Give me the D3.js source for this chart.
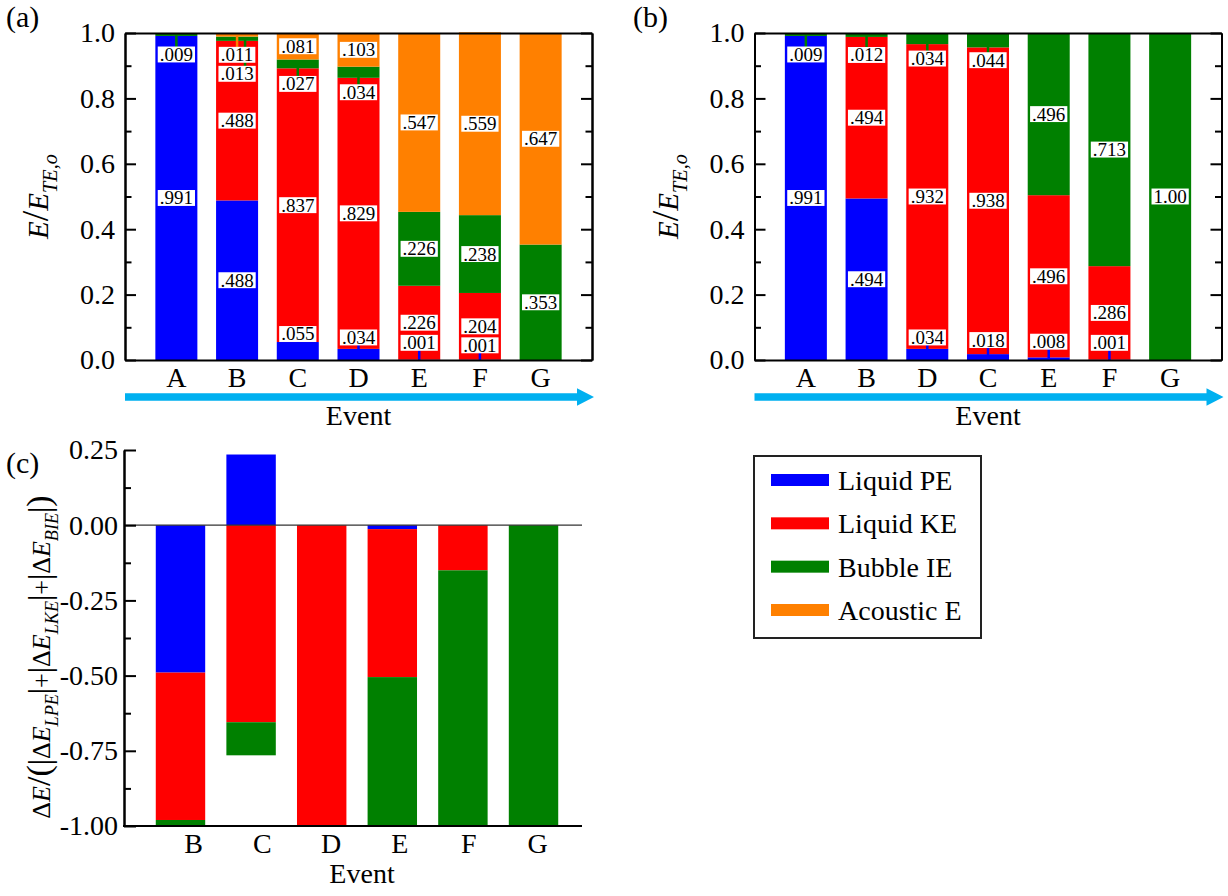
<!DOCTYPE html>
<html>
<head>
<meta charset="utf-8">
<script src="https://cdn.jsdelivr.net/npm/d3@7"></script>
<style>
  body { margin: 0; background: #fff; }
  svg { display: block; }
  text { font-family: 'Liberation Serif', 'Times New Roman', Times, serif; fill: #000; }
</style>
</head>
<body>
<svg id="chart" width="1228" height="896"></svg>
<script>
// ---- energy components (stack order: bottom to top) ----
const keys = ["lpe", "lke", "bie", "ae"];
const seriesNames = ["Liquid PE", "Liquid KE", "Bubble IE", "Acoustic E"];
const seriesColors = ["#0000ff", "#ff0000", "#008000", "#ff8000"];

// (a) energy fractions, acoustic loss included
const eventsA = ["A", "B", "C", "D", "E", "F", "G"];
const lpeA = [0.991, 0.488, 0.055, 0.034, 0.001, 0.001, 0];
const lkeA = [0, 0.488, 0.837, 0.829, 0.226, 0.204, 0];
const bieA = [0.009, 0.013, 0.027, 0.034, 0.226, 0.238, 0.353];
const aeA  = [0, 0.011, 0.081, 0.103, 0.547, 0.559, 0.647];

// (b) energy fractions without acoustic loss
const eventsB = ["A", "B", "D", "C", "E", "F", "G"];
const lpeB = [0.991, 0.494, 0.034, 0.018, 0.008, 0.001, 0];
const lkeB = [0, 0.494, 0.932, 0.938, 0.496, 0.286, 0];
const bieB = [0.009, 0.012, 0.034, 0.044, 0.496, 0.713, 1.00];
const aeB  = [0, 0, 0, 0, 0, 0, 0];

// (c) normalised energy change per event
const eventsC = ["B", "C", "D", "E", "F", "G"];
const dLpeC = [-0.49, 0.235, 0, -0.013, 0, 0];
const dLkeC = [-0.49, -0.655, -1.0, -0.492, -0.15, 0];
const dBieC = [-0.02, -0.11, 0, -0.495, -0.85, -1.0];

// axis ticks
const fracMajor = [0, 0.2, 0.4, 0.6, 0.8, 1.0];
const fracMinor = [0.1, 0.3, 0.5, 0.7, 0.9];
const deltaMajor = [0.25, 0, -0.25, -0.5, -0.75, -1.0];
const deltaMinor = [0.125, -0.125, -0.375, -0.625, -0.875];

const colorOf = d3.scaleOrdinal().domain(keys).range(seriesColors);
const svg = d3.select("#chart");
const ARROW = "#00b0f0";
const TICK_FS = 28;

function fmtFrac(v) { return v >= 1 ? v.toFixed(2) : v.toFixed(3).slice(1); }

// rotated axis title built from styled pieces
function richTitle(x, y, parts, base) {
  const t = svg.append("text")
    .attr("transform", `translate(${x},${y}) rotate(-90)`)
    .attr("text-anchor", "middle")
    .attr("font-size", base);
  let shift = 0;
  parts.forEach(p => {
    const target = p.sub ? base * 0.32 : 0;
    t.append("tspan")
      .attr("dy", target - shift)
      .attr("font-size", base * (p.s || 1))
      .attr("font-style", p.i ? "italic" : "normal")
      .text(p.t);
    shift = target;
  });
}

function styleAxis(g) {
  g.selectAll("path, line").attr("stroke", "#000").attr("stroke-width", 2);
  g.selectAll("text").attr("font-size", TICK_FS).attr("fill", "#000")
    .attr("font-family", "'Liberation Serif','Times New Roman',Times,serif");
}

function drawStackPanel(cfg) {
  const { events, cols, left, right, top, bottom, tag, tagX } = cfg;
  const rows = events.map((e, i) => {
    const r = { event: e };
    keys.forEach((k, j) => r[k] = cols[j][i]);
    return r;
  });
  const x = d3.scaleBand().domain(events).range([left, right]).paddingInner(0.308).paddingOuter(0.5);
  const y = d3.scaleLinear().domain([0, 1]).range([bottom, top]);
  const stacked = d3.stack().keys(keys)(rows);

  const g = svg.append("g");
  g.selectAll("g.layer").data(stacked).join("g")
    .attr("class", "layer")
    .attr("fill", d => colorOf(d.key))
    .selectAll("rect").data(d => d).join("rect")
    .attr("x", d => x(d.data.event))
    .attr("width", x.bandwidth())
    .attr("y", d => y(d[1]))
    .attr("height", d => Math.max(0, y(d[0]) - y(d[1])));

  // value labels with leader lines for thin segments
  const fs = 19, gap = 19;
  const leaders = g.append("g"), boxes = g.append("g");
  events.forEach((e, i) => {
    const labs = stacked.map(s => ({ key: s.key, y0: s[i][0], y1: s[i][1], v: rows[i][s.key] }))
      .filter(s => s.v > 0)
      .map(s => {
        const mid = (s.y0 + s.y1) / 2;
        const c = y(mid);
        const small = s.v < 0.06;
        const ly = small ? (mid > 0.5 ? c + 20 : c - 17) : c;
        return { ...s, c, ly, small };
      })
      .sort((a, b) => a.ly - b.ly);
    for (let k = 1; k < labs.length; k++) {
      if (labs[k].ly < labs[k - 1].ly + gap) labs[k].ly = labs[k - 1].ly + gap;
    }
    let limit = y(0) - 8.5;
    for (let k = labs.length - 1; k >= 0; k--) {
      if (labs[k].ly > limit) labs[k].ly = limit;
      limit = labs[k].ly - gap;
    }
    const cx = x(e) + x.bandwidth() / 2;
    labs.forEach(L => {
      if (!L.small) return;
      const lo = Math.min(L.c, L.ly), hi = Math.max(L.c, L.ly);
      const crosses = labs.some(M => M !== L && M.ly + 8 > lo && M.ly - 8 < hi);
      const lx = cx + (crosses ? 8 : 0);
      leaders.append("line")
        .attr("x1", lx).attr("x2", lx)
        .attr("y1", L.c).attr("y2", L.ly)
        .attr("stroke", colorOf(L.key)).attr("stroke-width", 2.5);
    });
    labs.forEach(L => {
      const lg = boxes.append("g");
      const base = L.ly + 0.34 * fs;
      const rect = lg.append("rect").attr("fill", "#fff");
      const txt = lg.append("text")
        .attr("x", cx).attr("y", base)
        .attr("text-anchor", "middle")
        .attr("font-size", fs)
        .text(fmtFrac(L.v));
      const w = txt.node().getComputedTextLength();
      rect.attr("x", cx - w / 2 - 2).attr("width", w + 4)
        .attr("y", base - 0.68 * fs - 1.5).attr("height", 0.68 * fs + 3);
    });
  });

  // frame and ticks
  const axL = svg.append("g").attr("transform", `translate(${left},0)`)
    .call(d3.axisLeft(y).tickValues(fracMajor).tickSize(-11).tickSizeOuter(0).tickPadding(10).tickFormat(d3.format(".1f")));
  styleAxis(axL);
  const axLm = svg.append("g").attr("transform", `translate(${left},0)`)
    .call(d3.axisLeft(y).tickValues(fracMinor).tickSize(-6.5).tickSizeOuter(0).tickFormat(""));
  styleAxis(axLm);
  const axR = svg.append("g").attr("transform", `translate(${right},0)`)
    .call(d3.axisRight(y).tickValues(fracMajor).tickSize(-11).tickSizeOuter(0).tickFormat(""));
  styleAxis(axR);
  const axRm = svg.append("g").attr("transform", `translate(${right},0)`)
    .call(d3.axisRight(y).tickValues(fracMinor).tickSize(-6.5).tickSizeOuter(0).tickFormat(""));
  styleAxis(axRm);
  const axT = svg.append("g").attr("transform", `translate(0,${top})`)
    .call(d3.axisTop(x).tickSize(0).tickSizeOuter(0).tickFormat(""));
  styleAxis(axT);
  const axB = svg.append("g").attr("transform", `translate(0,${bottom})`)
    .call(d3.axisBottom(x).tickSize(0).tickSizeOuter(0).tickPadding(7));
  styleAxis(axB);

  // event arrow
  const ay = 397, x0 = left, x1 = right + 2;
  svg.append("path")
    .attr("d", `M${x0},${ay - 3.7}H${x1 - 17}V${ay - 8.7}L${x1},${ay}L${x1 - 17},${ay + 8.7}V${ay + 3.7}H${x0}Z`)
    .attr("fill", ARROW);
  svg.append("text").attr("x", (left + right) / 2).attr("y", 425)
    .attr("text-anchor", "middle").attr("font-size", TICK_FS).text("Event");

  // axis title and panel tag
  richTitle(left - 77, (top + bottom) / 2, [
    { t: "E", i: true }, { t: "/", s: 1.3 }, { t: "E", i: true }, { t: "TE,o", i: true, sub: true, s: 0.7 }
  ], 29);
  svg.append("text").attr("x", tagX).attr("y", 27).attr("font-size", 30).text(tag);
}

drawStackPanel({ events: eventsA, cols: [lpeA, lkeA, bieA, aeA], left: 125, right: 592, top: 33, bottom: 360, tag: "(a)", tagX: 6 });
drawStackPanel({ events: eventsB, cols: [lpeB, lkeB, bieB, aeB], left: 754.5, right: 1221.5, top: 33, bottom: 360, tag: "(b)", tagX: 633 });

// ---- panel (c): diverging stacked change ----
(function () {
  const left = 124, right = 590, axisEnd = 582, top = 450, bottom = 826;
  const ckeys = ["lpe", "lke", "bie"];
  const rows = eventsC.map((e, i) => ({ event: e, lpe: dLpeC[i], lke: dLkeC[i], bie: dBieC[i] }));
  const x = d3.scaleBand().domain(eventsC).range([left, right]).paddingInner(0.3).paddingOuter(0.45);
  const xLab = d3.scalePoint().domain(eventsC).range([left + 69, left + 413]);
  const y = d3.scaleLinear().domain([-1, 0.25]).range([bottom, top]);
  const stacked = d3.stack().keys(ckeys).offset(d3.stackOffsetDiverging)(rows);

  svg.append("g").selectAll("g").data(stacked).join("g")
    .attr("fill", d => colorOf(d.key))
    .selectAll("rect").data(d => d).join("rect")
    .attr("x", d => x(d.data.event))
    .attr("width", x.bandwidth())
    .attr("y", d => y(Math.max(d[0], d[1])))
    .attr("height", d => Math.abs(y(d[0]) - y(d[1])));

  // zero reference line
  svg.append("line").attr("x1", left).attr("x2", axisEnd)
    .attr("y1", y(0)).attr("y2", y(0))
    .attr("stroke", "#333").attr("stroke-width", 1.2);

  const axL = svg.append("g").attr("transform", `translate(${left},0)`)
    .call(d3.axisLeft(y).tickValues(deltaMajor).tickSize(-12).tickSizeOuter(0).tickPadding(6).tickFormat(v => v.toFixed(2)));
  styleAxis(axL);
  const axLm = svg.append("g").attr("transform", `translate(${left},0)`)
    .call(d3.axisLeft(y).tickValues(deltaMinor).tickSize(-7).tickSizeOuter(0).tickFormat(""));
  styleAxis(axLm);

  svg.append("line").attr("x1", left - 1).attr("x2", axisEnd)
    .attr("y1", bottom).attr("y2", bottom)
    .attr("stroke", "#000").attr("stroke-width", 2);
  const axB = svg.append("g").attr("transform", `translate(0,${bottom})`)
    .call(d3.axisBottom(xLab).tickSize(0).tickPadding(7));
  styleAxis(axB);
  axB.select(".domain").remove();

  svg.append("text").attr("x", 362).attr("y", 883)
    .attr("text-anchor", "middle").attr("font-size", TICK_FS).text("Event");
  svg.append("text").attr("x", 6).attr("y", 473).attr("font-size", 30).text("(c)");

  richTitle(50, 657, [
    { t: "Δ" }, { t: "E", i: true }, { t: "/", s: 1.3 }, { t: "(", s: 1.3 },
    { t: "|", s: 1.2 }, { t: "Δ" }, { t: "E", i: true }, { t: "LPE", i: true, sub: true, s: 0.7 }, { t: "|", s: 1.2 },
    { t: "+" },
    { t: "|", s: 1.2 }, { t: "Δ" }, { t: "E", i: true }, { t: "LKE", i: true, sub: true, s: 0.7 }, { t: "|", s: 1.2 },
    { t: "+" },
    { t: "|", s: 1.2 }, { t: "Δ" }, { t: "E", i: true }, { t: "BIE", i: true, sub: true, s: 0.7 }, { t: "|", s: 1.2 },
    { t: ")", s: 1.3 }
  ], 26);
})();

// ---- legend ----
(function () {
  const lx = 754, ly = 456, lw = 227, lh = 182;
  svg.append("rect").attr("x", lx).attr("y", ly).attr("width", lw).attr("height", lh)
    .attr("fill", "#fff").attr("stroke", "#222").attr("stroke-width", 2);
  const row = d3.scalePoint().domain(seriesNames).range([ly + 24, ly + 154]);
  const items = svg.append("g").selectAll("g").data(seriesNames).join("g")
    .attr("transform", d => `translate(${lx + 17},${row(d)})`);
  items.append("rect").attr("x", 0).attr("y", -6).attr("width", 58).attr("height", 12)
    .attr("fill", (d, i) => seriesColors[i]);
  items.append("text").attr("x", 67).attr("y", 10).attr("font-size", 28).text(d => d);
})();
</script>
</body>
</html>
